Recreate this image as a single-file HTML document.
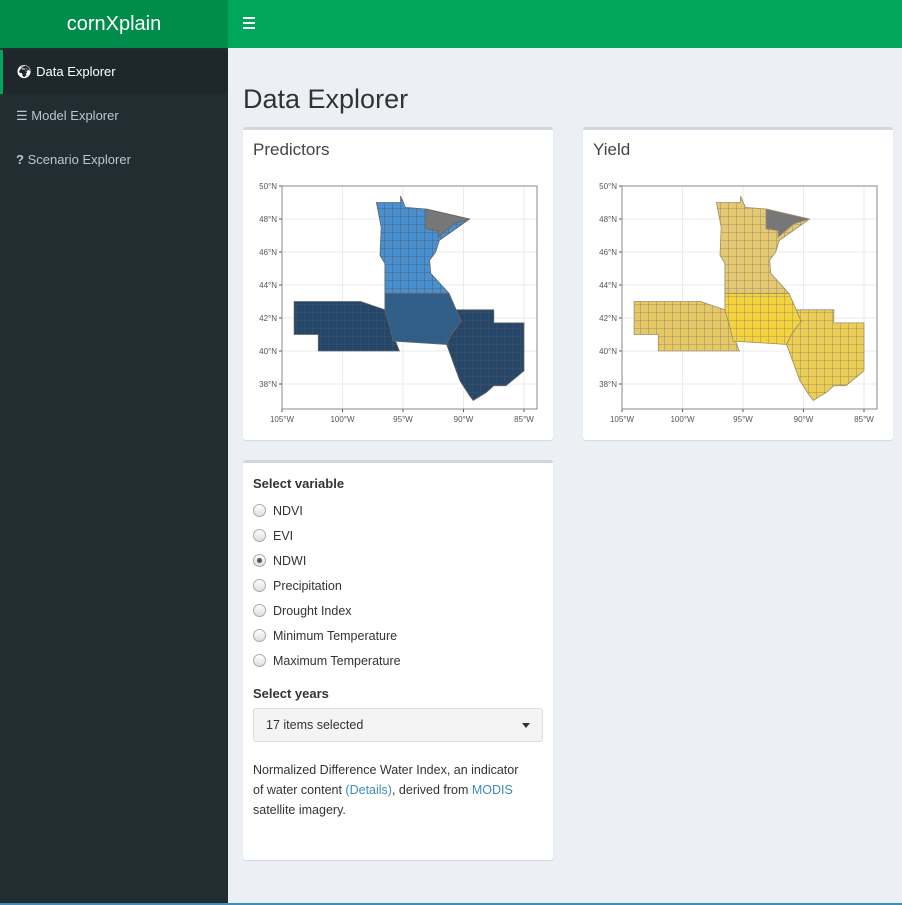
<!DOCTYPE html>
<html><head><meta charset="utf-8"><style>
*{box-sizing:border-box;margin:0;padding:0}
body{width:902px;height:905px;overflow:hidden;background:#ecf0f5;font-family:"Liberation Sans",sans-serif;position:relative;color:#333}
.abs{position:absolute}
#logo{left:0;top:0;width:228px;height:48px;background:#008d4c;color:#fff;font-size:20px;text-align:center;line-height:48px}
#topbar{left:228px;top:0;width:674px;height:48px;background:#00a65a}
#side{left:0;top:48px;width:228px;height:857px;background:#222d32}
.nav{position:absolute;left:0;width:228px;height:44px;line-height:44px;font-size:13px;color:#b8c7ce;padding-left:16px}
.nav.act{background:#1e282c;color:#fff;border-left:3px solid #00a65a;padding-left:13px}
.box{position:absolute;background:#fff;border-top:3px solid #d2d6de;border-radius:3px;box-shadow:0 1px 1px rgba(0,0,0,.1)}
.bt{position:absolute;left:10px;top:10px;font-size:17px;color:#444}
.lbl{position:absolute;left:10px;font-weight:bold;font-size:13px;color:#333}
.rad{position:absolute;left:10px;font-size:12.5px;color:#333;height:16px;line-height:16px}
.rad i{display:inline-block;width:13px;height:13px;border:1px solid #aaa;border-radius:50%;background:linear-gradient(#fff,#ddd);vertical-align:-2px;margin-right:7px;position:relative}
.rad i.on:after{content:"";position:absolute;left:3px;top:3px;width:5px;height:5px;border-radius:50%;background:#555}
a{color:#3c8dbc;text-decoration:none}
</style></head><body>
<div id="logo" class="abs">cornXplain</div>
<div id="topbar" class="abs">
 <div class="abs" style="left:15px;top:17px;width:12px;height:12px">
  <div style="height:2px;background:#fff;margin-bottom:3px"></div><div style="height:2px;background:#fff;margin-bottom:3px"></div><div style="height:2px;background:#fff"></div></div>
</div>
<div id="side" class="abs">
 <div class="nav act" style="top:2px">&#x1F30D;&#xFE0E; Data Explorer</div>
 <div class="nav" style="top:46px">&#x2630; Model Explorer</div>
 <div class="nav" style="top:90px"><b>?</b> Scenario Explorer</div>
</div>
<div class="abs" style="left:243px;top:84px;font-size:27px;color:#333">Data Explorer</div>

<div class="box" style="left:243px;top:127px;width:310px;height:313px">
 <div class="bt">Predictors</div></div>
<div class="box" style="left:583px;top:127px;width:310px;height:313px">
 <div class="bt">Yield</div></div>

<svg class="abs" id="maps" style="left:0;top:0" width="902" height="450"></svg>

<div class="box" style="left:243px;top:460px;width:310px;height:400px">
 <div class="lbl" style="top:13px">Select variable</div>
 <div class="rad" style="top:40px"><i></i>NDVI</div>
 <div class="rad" style="top:65px"><i></i>EVI</div>
 <div class="rad" style="top:90px"><i class="on"></i>NDWI</div>
 <div class="rad" style="top:115px"><i></i>Precipitation</div>
 <div class="rad" style="top:140px"><i></i>Drought Index</div>
 <div class="rad" style="top:165px"><i></i>Minimum Temperature</div>
 <div class="rad" style="top:190px"><i></i>Maximum Temperature</div>
 <div class="lbl" style="top:223px">Select years</div>
 <div class="abs" style="left:10px;top:245px;width:290px;height:34px;background:#f4f4f4;border:1px solid #ddd;border-radius:3px;font-size:12.5px;line-height:32px;padding-left:12px">17 items selected
  <span style="position:absolute;right:12px;top:14px;border-left:4px solid transparent;border-right:4px solid transparent;border-top:5px solid #333"></span></div>
 <div class="abs" style="left:10px;top:297px;width:272px;font-size:12.5px;line-height:20px">Normalized Difference Water Index, an indicator of water content <a>(Details)</a>, derived from <a>MODIS</a> satellite imagery.</div>
</div>
<div class="abs" style="left:0;top:903px;width:902px;height:2px;background:#3c8dbc"></div>

<script>
const lonTicks=[-105,-100,-95,-90,-85];
const latTicks=[38,40,42,44,46,48,50];
const stateNames=["NE","IA","MN","IL-IN","MN-arrowhead"];
const stateShapes=[
 [[-104,43],[-98.5,43],[-96.5,42.5],[-96.1,41.5],[-95.3,40],[-102,40],[-102,41],[-104,41]],
 [[-96.5,43.5],[-91.2,43.5],[-90.6,42.5],[-90.2,41.8],[-91,41],[-91.4,40.4],[-95.8,40.6],[-96.1,41.5],[-96.5,42.5]],
 [[-97.2,49],[-95.2,49],[-95.2,49.4],[-94.8,48.7],[-93,48.6],[-89.5,48],[-92,46.7],[-92.3,46],[-92.8,45.5],[-92.7,44.7],[-91.2,43.5],[-96.5,43.5],[-96.5,45.3],[-96.9,45.8],[-96.8,47.5]],
 [[-90.6,42.5],[-87.5,42.5],[-87.5,41.7],[-85,41.7],[-85,38.8],[-85.5,38.5],[-86.5,37.9],[-87.5,37.9],[-88.1,37.5],[-89.2,37],[-89.5,37.3],[-90.3,38.2],[-90.7,39],[-91.4,40.4],[-91,41],[-90.2,41.8]],
 [[-93.1,48.6],[-89.5,48],[-90.8,47.7],[-92.1,46.9],[-92.1,47.3],[-93.1,47.4]]
];
const predColors=["#23466b","#2f5f8c","#4890d0","#26476a","#777777"];
const yieldColors=["#e6c866","#f5d33f","#e4c872","#eccd55","#777777"];
const panels=[{ox:0,colors:predColors,name:"predictors"},{ox:340,colors:yieldColors,name:"yield"}];
const svg=document.getElementById('maps');const NS="http://www.w3.org/2000/svg";
function xs(lon,ox){return 282+ox+(lon+105)*12.1;}
function ys(lat){return 186+(50-lat)*16.5;}
function mk(t,a){const e=document.createElementNS(NS,t);for(const k in a)e.setAttribute(k,a[k]);svg.appendChild(e);return e;}
const defs=mk('defs',{});
panels.forEach((p,pi)=>{
 const ox=p.ox;
 const pat=document.createElementNS(NS,'pattern');
 pat.setAttribute('id','cty'+pi);pat.setAttribute('width','8');pat.setAttribute('height','8');pat.setAttribute('patternUnits','userSpaceOnUse');
 const pp=document.createElementNS(NS,'path');pp.setAttribute('d','M0 0H8M0 0V8');pp.setAttribute('stroke',pi?'#8a7f60':'#4d5560');pp.setAttribute('stroke-width','0.8');pp.setAttribute('fill','none');pat.appendChild(pp);defs.appendChild(pat);
 const bg=mk('rect',{x:282+ox,y:186,width:255,height:223,fill:'#fff',stroke:'#888'});
 
 lonTicks.forEach(l=>{const x=xs(l,ox);mk('line',{x1:x,x2:x,y1:186,y2:409,stroke:'#ebebeb'});
  mk('line',{x1:x,x2:x,y1:409,y2:412,stroke:'#555'});
  const t=mk('text',{x:x,y:422,'font-size':8,fill:'#555','text-anchor':'middle','font-family':'Liberation Sans'});t.textContent=(-l)+'°W';
  });
 latTicks.forEach(l=>{const y=ys(l);mk('line',{x1:282+ox,x2:537+ox,y1:y,y2:y,stroke:'#ebebeb'});
  mk('line',{x1:279+ox,x2:282+ox,y1:y,y2:y,stroke:'#555'});
  const t=mk('text',{x:277+ox,y:y+3,'font-size':8,fill:'#555','text-anchor':'end','font-family':'Liberation Sans'});t.textContent=l+'°N';
  });
 stateShapes.forEach((s,i)=>{
  const d='M'+s.map(c=>xs(c[0],ox).toFixed(1)+' '+ys(c[1]).toFixed(1)).join('L')+'Z';
  const e=mk('path',{d:d,fill:p.colors[i],stroke:pi?'#9a8f70':'#666','stroke-width':0.8});
  
  if(i<4){const g=mk('path',{d:d,fill:'url(#cty'+pi+')'});}
 });
 mk('rect',{x:282+ox,y:186,width:255,height:223,fill:'none',stroke:'#888'});
});
</script>
</body></html>
